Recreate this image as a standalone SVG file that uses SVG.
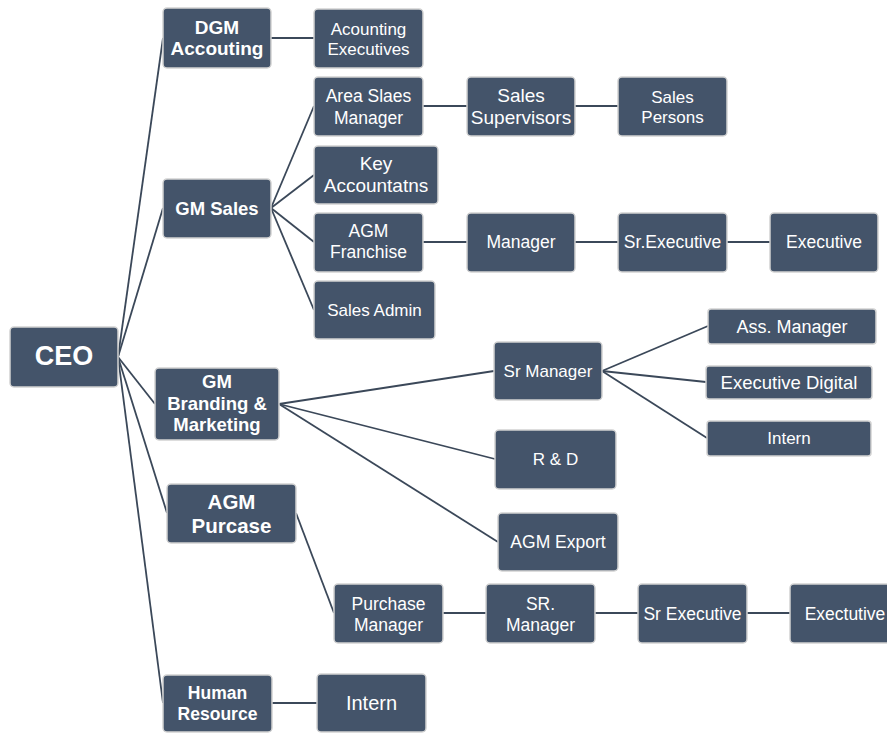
<svg xmlns="http://www.w3.org/2000/svg" width="887" height="733" viewBox="0 0 887 733">
<style>
.b{fill:#44546a;stroke:#d2d2d2;stroke-width:1.5}
.t{fill:#ffffff;font-family:"Liberation Sans",Arial,sans-serif;text-anchor:middle;font-size:17.5px}
.h{font-weight:bold}
.c line{stroke:#3b4859;stroke-width:1.8}
</style>
<rect width="887" height="733" fill="#ffffff"/>
<g class="c" id="connectors">
<line x1="118" y1="357" x2="163" y2="38"/>
<line x1="118" y1="357" x2="163" y2="208"/>
<line x1="118" y1="357" x2="155" y2="404"/>
<line x1="118" y1="357" x2="167" y2="513"/>
<line x1="118" y1="357" x2="163" y2="703"/>
<line x1="271" y1="38" x2="314" y2="38"/>
<line x1="271" y1="208" x2="314" y2="106"/>
<line x1="271" y1="208" x2="314" y2="175"/>
<line x1="271" y1="208" x2="314" y2="242"/>
<line x1="271" y1="208" x2="314" y2="310"/>
<line x1="423" y1="106" x2="467" y2="106"/>
<line x1="575" y1="106" x2="618" y2="106"/>
<line x1="423" y1="242" x2="467" y2="242"/>
<line x1="575" y1="242" x2="618" y2="242"/>
<line x1="727" y1="242" x2="770" y2="242"/>
<line x1="279" y1="404" x2="494" y2="371"/>
<line x1="279" y1="404" x2="495" y2="459"/>
<line x1="279" y1="404" x2="498" y2="542"/>
<line x1="602" y1="371" x2="708" y2="326"/>
<line x1="602" y1="371" x2="706" y2="382"/>
<line x1="602" y1="371" x2="707" y2="438"/>
<line x1="296" y1="513" x2="334" y2="613"/>
<line x1="443" y1="613" x2="486" y2="613"/>
<line x1="595" y1="613" x2="638" y2="613"/>
<line x1="747" y1="613" x2="790" y2="613"/>
<line x1="272" y1="703" x2="317" y2="703"/>
</g>
<g id="ceo"><rect class="b" x="10" y="327" width="108" height="60" rx="4"/><text class="t h" x="64" y="365" style="font-size:27px">CEO</text></g>
<g id="dgm"><rect class="b" x="163" y="8" width="108" height="60" rx="4"/><text class="t h" x="217" y="34" style="font-size:19px">DGM</text><text class="t h" x="217" y="55" style="font-size:19px">Accouting</text></g>
<g id="acc-exec"><rect class="b" x="314" y="9" width="109" height="59" rx="4"/><text class="t" x="368.5" y="35" style="font-size:17px">Acounting</text><text class="t" x="368.5" y="55" style="font-size:17px">Executives</text></g>
<g id="area"><rect class="b" x="314" y="77" width="109" height="59" rx="4"/><text class="t" x="368.5" y="102">Area Slaes</text><text class="t" x="368.5" y="124">Manager</text></g>
<g id="sup"><rect class="b" x="467" y="77" width="108" height="59" rx="4"/><text class="t" x="521" y="102" style="font-size:19px">Sales</text><text class="t" x="521" y="124" style="font-size:19px">Supervisors</text></g>
<g id="persons"><rect class="b" x="618" y="77" width="109" height="59" rx="4"/><text class="t" x="672.5" y="103" style="font-size:17px">Sales</text><text class="t" x="672.5" y="123" style="font-size:17px">Persons</text></g>
<g id="gmsales"><rect class="b" x="163" y="179" width="108" height="59" rx="4"/><text class="t h" x="217" y="215" style="font-size:18.5px">GM Sales</text></g>
<g id="key"><rect class="b" x="314" y="146" width="124" height="58" rx="4"/><text class="t" x="376" y="170" style="font-size:19px">Key</text><text class="t" x="376" y="192" style="font-size:19px">Accountatns</text></g>
<g id="agmf"><rect class="b" x="314" y="213" width="109" height="59" rx="4"/><text class="t" x="368.5" y="237">AGM</text><text class="t" x="368.5" y="258">Franchise</text></g>
<g id="mgr"><rect class="b" x="467" y="213" width="108" height="59" rx="4"/><text class="t" x="521" y="248">Manager</text></g>
<g id="srexec1"><rect class="b" x="618" y="213" width="109" height="59" rx="4"/><text class="t" x="672.5" y="248">Sr.Executive</text></g>
<g id="exec1"><rect class="b" x="770" y="213" width="108" height="59" rx="4"/><text class="t" x="824" y="248">Executive</text></g>
<g id="admin"><rect class="b" x="314" y="281" width="121" height="58" rx="4"/><text class="t" x="374.5" y="316" style="font-size:17px">Sales Admin</text></g>
<g id="gmbrand"><rect class="b" x="155" y="368" width="124" height="72" rx="4"/><text class="t h" x="217" y="388" style="font-size:18.5px">GM</text><text class="t h" x="217" y="410" style="font-size:18.5px">Branding &amp;</text><text class="t h" x="217" y="431" style="font-size:18.5px">Marketing</text></g>
<g id="srmgr"><rect class="b" x="494" y="342" width="108" height="58" rx="4"/><text class="t" x="548" y="377" style="font-size:17px">Sr Manager</text></g>
<g id="ass"><rect class="b" x="708" y="309" width="168" height="35" rx="3"/><text class="t" x="792" y="333" style="font-size:18px">Ass. Manager</text></g>
<g id="digital"><rect class="b" x="706" y="366" width="166" height="33" rx="3"/><text class="t" x="789" y="389" style="font-size:18.5px">Executive Digital</text></g>
<g id="intern1"><rect class="b" x="707" y="421" width="164" height="35" rx="3"/><text class="t" x="789" y="444" style="font-size:17px">Intern</text></g>
<g id="rd"><rect class="b" x="495" y="430" width="121" height="59" rx="4"/><text class="t" x="555.5" y="465" style="font-size:17px">R &amp; D</text></g>
<g id="export"><rect class="b" x="498" y="513" width="120" height="58" rx="4"/><text class="t" x="558" y="548">AGM Export</text></g>
<g id="agmp"><rect class="b" x="167" y="484" width="129" height="59" rx="4"/><text class="t h" x="231.5" y="509" style="font-size:20.5px">AGM</text><text class="t h" x="231.5" y="533" style="font-size:20.5px">Purcase</text></g>
<g id="pm"><rect class="b" x="334" y="584" width="109" height="59" rx="4"/><text class="t" x="388.5" y="610">Purchase</text><text class="t" x="388.5" y="631">Manager</text></g>
<g id="srm2"><rect class="b" x="486" y="584" width="109" height="59" rx="4"/><text class="t" x="540.5" y="610">SR.</text><text class="t" x="540.5" y="631">Manager</text></g>
<g id="srexec2"><rect class="b" x="638" y="584" width="109" height="59" rx="4"/><text class="t" x="692.5" y="620">Sr Executive</text></g>
<g id="exec2"><rect class="b" x="790" y="584" width="110" height="59" rx="4"/><text class="t" x="845" y="620">Exectutive</text></g>
<g id="hr"><rect class="b" x="163" y="675" width="109" height="57" rx="4"/><text class="t h" x="217.5" y="699">Human</text><text class="t h" x="217.5" y="720">Resource</text></g>
<g id="intern2"><rect class="b" x="317" y="674" width="109" height="58" rx="4"/><text class="t" x="371.5" y="710" style="font-size:20px">Intern</text></g>
</svg>
